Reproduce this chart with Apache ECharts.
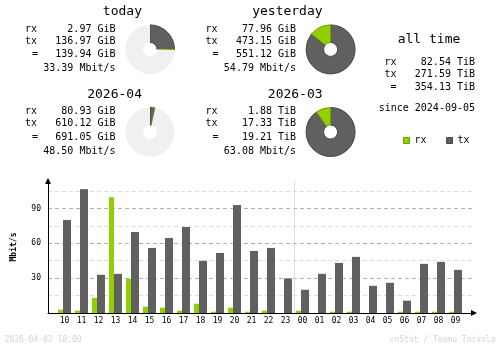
<!DOCTYPE html>
<html>
<head>
<meta charset="utf-8">
<script src="https://cdn.jsdelivr.net/npm/echarts@6/dist/echarts.min.js"></script>
<style>
html,body{margin:0;padding:0;background:#fff;}
#chart{width:500px;height:348px;}
</style>
</head>
<body>
<div id="chart"></div>
<script>
// ---- data ----
const periodNames = ['today', 'yesterday', '2026-04', '2026-03'];
const periodRx = [2.97, 77.96, 80.93, 1.88];
const periodTx = [136.97, 473.15, 610.12, 17.33];
const periodTotal = [139.94, 551.12, 691.05, 19.21];
const periodUnit = ['GiB', 'GiB', 'GiB', 'TiB'];
const periodRate = [33.39, 54.79, 48.50, 63.08];

const allTimeLabels = ['rx', 'tx', '='];
const allTimeValues = [82.54, 271.59, 354.13];
const allTimeUnit = 'TiB';
const sinceDate = '2024-09-05';

const hours = ['10','11','12','13','14','15','16','17','18','19','20','21','22','23',
               '00','01','02','03','04','05','06','07','08','09'];
const hourRx = [2.9, 2.0, 13.1, 99.7, 29.4, 5.4, 4.6, 2.0, 8.0, 1.1, 4.6, 1.1,
                2.0, 0, 2.0, 0, 1.1, 1.1, 0, 0, 1.1, 1.1, 1.1, 1.1];
const hourTx = [80.0, 106.6, 32.9, 33.7, 69.7, 56.0, 64.6, 74.0, 44.9, 51.7, 92.9, 53.4,
                56.0, 29.7, 20.0, 33.7, 43.1, 48.3, 23.4, 26.0, 10.6, 42.3, 44.0, 37.1];
const yLabelValues = [30, 60, 90];
const footerLeft = '2026-04-02 10:00';
const footerRight = 'vnStat / Teemu Toivola';

// ---- style ----
const MONO = '"DejaVu Sans Mono", "Liberation Mono", monospace';
const RX = '#92cf00', RXD = '#6f9e00', TX = '#606060', TXD = '#474747', BGOFF = '#f0f0f0';
const unitFactor = {GiB: 1, TiB: 1024};

const chart = echarts.init(document.getElementById('chart'), null, {renderer: 'canvas'});

// block layout (origin offsets)
const blockX = [0, 180.6, 0, 180.6];
const blockY = [0, 0, 82.6, 82.6];

const graphics = [];
function txt(x, y, s, size, align, color, weight) {
  graphics.push({
    type: 'text', x: x, y: y, silent: true,
    style: {text: s, font: (weight || 'normal') + ' ' + size + 'px ' + MONO,
            fill: color || '#000', align: align || 'left', verticalAlign: 'middle'}
  });
}

const pieSeries = [];
for (let i = 0; i < periodNames.length; i++) {
  const bx = blockX[i], by = blockY[i];
  const u = periodUnit[i];
  txt(142 + bx, 12 + by, periodNames[i], 13, 'right');
  txt(25 + bx, 29 + by, 'rx', 10);
  txt(25 + bx, 41.3 + by, 'tx', 10);
  txt(35 + bx, 54.6 + by, '=', 10, 'center');
  txt(115.5 + bx, 29 + by, periodRx[i].toFixed(2) + ' ' + u, 10, 'right');
  txt(115.5 + bx, 41.3 + by, periodTx[i].toFixed(2) + ' ' + u, 10, 'right');
  txt(115.5 + bx, 54.6 + by, periodTotal[i].toFixed(2) + ' ' + u, 10, 'right');
  txt(115.5 + bx, 68.5 + by, periodRate[i].toFixed(2) + ' Mbit/s', 10, 'right');

  // pies compare each period with its pair (today/yesterday, month/month)
  const pair = i < 2 ? [0, 1] : [2, 3];
  const maxTot = Math.max(periodTotal[pair[0]] * unitFactor[periodUnit[pair[0]]],
                          periodTotal[pair[1]] * unitFactor[periodUnit[pair[1]]]);
  const f = unitFactor[u];
  const txv = periodTx[i] * f, rxv = periodRx[i] * f;
  const rest = Math.max(0, maxTot - txv - rxv);
  pieSeries.push({
    type: 'pie', silent: true, animation: false,
    center: [150 + bx, 49.4 + by], radius: [7, 24.5],
    startAngle: 90, clockwise: true,
    label: {show: false}, labelLine: {show: false},
    emphasis: {disabled: true},
    data: [
      {value: txv, itemStyle: {color: TX, borderColor: TXD, borderWidth: 1}},
      {value: rxv, itemStyle: {color: RX, borderColor: RXD, borderWidth: 1}},
      {value: rest, itemStyle: {color: BGOFF, borderWidth: 0}}
    ]
  });
}

// all time block
txt(429, 39.5, 'all time', 13, 'center');
const allY = [62, 74.2, 87.6];
for (let k = 0; k < allTimeLabels.length; k++) {
  if (allTimeLabels[k] === '=') txt(393.5, allY[k], '=', 10, 'center');
  else txt(384.5, allY[k], allTimeLabels[k], 10);
  txt(475, allY[k], allTimeValues[k].toFixed(2) + ' ' + allTimeUnit, 10, 'right');
}
txt(475, 108.3, 'since ' + sinceDate, 10, 'right');

// footer
txt(4.5, 340, footerLeft, 8, 'left', '#d4d4d4');
txt(495.5, 340, footerRight, 8, 'right', '#d4d4d4');

const GRID_TOP = 181, GRID_BOTTOM = 35, YMAX = 113.6;
// grid 0 spans the axis lines; its x scale is in category-index units (17 px per hour)
const G0_LEFT = 48, G0_RIGHT = 26, G1_LEFT = 56, G1_RIGHT = 36;
const BAND = (500 - G1_LEFT - G1_RIGHT) / hours.length;
const idxMin = (G0_LEFT - (G1_LEFT + BAND / 2)) / BAND;
const idxMax = idxMin + (500 - G0_LEFT - G0_RIGHT) / BAND;
const midnightIdx = hours.indexOf('00') - 0.5;

const option = {
  animation: false,
  backgroundColor: '#ffffff',
  textStyle: {fontFamily: MONO},
  legend: {
    left: 398, top: 130.5, orient: 'horizontal',
    icon: 'rect', itemWidth: 6, itemHeight: 6, itemGap: 19.5,
    selectedMode: false,
    textStyle: {fontFamily: MONO, fontSize: 10, color: '#000', padding: [0, 0, 0, 0]},
    data: [
      {name: 'rx', itemStyle: {color: RX, borderColor: RXD, borderWidth: 1}},
      {name: 'tx', itemStyle: {color: TX, borderColor: TXD, borderWidth: 1}}
    ]
  },
  grid: [
    {left: G0_LEFT, right: G0_RIGHT, top: GRID_TOP, bottom: GRID_BOTTOM},
    {left: G1_LEFT, right: G1_RIGHT, top: GRID_TOP, bottom: GRID_BOTTOM}
  ],
  xAxis: [
    {
      type: 'value', gridIndex: 0, min: idxMin, max: idxMax,
      axisLine: {show: true, onZero: false, lineStyle: {color: '#000', width: 1},
                 symbol: ['none', 'triangle'], symbolSize: [6, 6]},
      axisTick: {show: false}, axisLabel: {show: false}, splitLine: {show: false}
    },
    {
      type: 'category', gridIndex: 1, data: hours, boundaryGap: true,
      axisLine: {show: false}, axisTick: {show: false},
      axisLabel: {show: true, interval: 0, margin: 4, fontFamily: MONO, fontSize: 8, color: '#000'},
      splitLine: {show: false}
    }
  ],
  yAxis: [
    {
      type: 'value', gridIndex: 0, min: 0, max: YMAX, interval: 15,
      name: 'Mbit/s', nameLocation: 'middle', nameGap: 30, nameRotate: 90,
      nameTextStyle: {fontFamily: MONO, fontSize: 8, color: '#000', fontWeight: 'bold'},
      axisLine: {show: true, onZero: false, lineStyle: {color: '#000', width: 1},
                 symbol: ['none', 'triangle'], symbolSize: [6, 6]},
      axisTick: {show: false},
      axisLabel: {show: true, margin: 7, fontFamily: MONO, fontSize: 8, color: '#000',
                  formatter: function (v) { return yLabelValues.indexOf(v) >= 0 ? String(v) : ''; }},
      splitLine: {show: true, showMinLine: false, showMaxLine: false,
                  lineStyle: {color: ['#dcdcdc', '#b0b0b0'], type: [4, 3], width: 1}}
    },
    {
      type: 'value', gridIndex: 1, min: 0, max: YMAX, interval: 15, show: false,
      splitLine: {show: false}
    }
  ],
  series: [
    {
      name: 'midnight', type: 'line', xAxisIndex: 0, yAxisIndex: 0, data: [],
      silent: true, z: 1,
      markLine: {
        silent: true, symbol: 'none', animation: false,
        label: {show: false},
        lineStyle: {color: '#dcdcdc', type: 'solid', width: 1},
        data: [{xAxis: midnightIdx}]
      }
    },
    {
      name: 'rx', type: 'bar', xAxisIndex: 1, yAxisIndex: 1, data: hourRx,
      barWidth: 5, barGap: '0%', itemStyle: {color: RX}, silent: true, z: 3
    },
    {
      name: 'tx', type: 'bar', xAxisIndex: 1, yAxisIndex: 1, data: hourTx,
      barWidth: 8, barGap: '0%', itemStyle: {color: TX}, silent: true, z: 3
    }
  ].concat(pieSeries),
  graphic: graphics
};
chart.setOption(option);
</script>
</body>
</html>
